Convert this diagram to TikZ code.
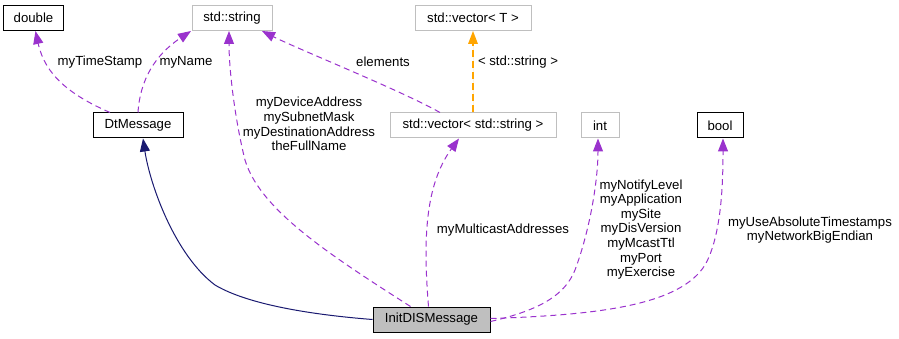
\documentclass[tikz,border=0pt]{standalone}
\usepackage{fontspec}
\setmainfont{Liberation Sans}
\usetikzlibrary{arrows.meta}
\definecolor{mem}{HTML}{9A32CD}
\definecolor{tmpl}{HTML}{FFA500}
\definecolor{inh}{HTML}{191970}
\definecolor{lgray}{HTML}{BFBFBF}
\begin{document}
\begin{tikzpicture}[x=1pt,y=-1pt,
  every node/.style={font=\fontsize{13.2}{14.6}\selectfont, inner sep=0pt, align=center},
  cls/.style={draw=black, line width=1pt, minimum height=25pt},
  ext/.style={draw=lgray, line width=1pt, minimum height=25pt},
  cur/.style={draw=black, fill=lgray, line width=1pt, minimum height=25pt},
  tip/.style={-{Triangle[length=13pt,width=10pt]}},
  memb/.style={tip, color=mem, line width=1pt, dash pattern=on 6pt off 4pt},
  tmplt/.style={-{Triangle[length=13pt,width=10pt,line width=0pt]}, draw=tmpl, fill=tmpl, line width=1.4pt, dash pattern=on 7pt off 4pt},
  inher/.style={tip, color=inh, line width=1pt},
  lbl/.style={fill=none}]
\useasboundingbox (0,0) rectangle (899,339);
\node[cls, minimum width=60pt] (double) at (33.5,18) {double};
\node[ext, minimum width=80pt] (string) at (232,18) {std::string};
\node[cls, minimum width=90pt] (dtmsg) at (138,125.5) {DtMessage};
\node[ext, minimum width=116pt] (vecT) at (473,18) {std::vector\textless{} T \textgreater{}};
\node[ext, minimum width=166pt] (vecS) at (473,125.5) {std::vector\textless{} std::string \textgreater{}};
\node[ext, minimum width=38pt] (int) at (600,125.5) {int};
\node[cls, minimum width=46pt] (bool) at (720,125.5) {bool};
\node[cur, minimum width=117pt] (initdis) at (431.5,319.5) {InitDISMessage};

% inheritance
\draw[inher] (initdis.west) .. controls (290,313) and (240,300) .. (215,285)
  .. controls (175,255) and (150,185) .. ([xshift=5pt]dtmsg.south);
% members
\draw[memb] ([xshift=-28pt]dtmsg.north) .. controls (70,95) and (45,75) .. ([xshift=2pt]double.south);
\node[lbl] (l1) at (100,62) {myTimeStamp};
\draw[memb] (dtmsg.north) .. controls (140,80) and (155,55) .. ([xshift=-41pt]string.south);
\node[lbl] (l2) at (186,62) {myName};
\draw[memb] ([xshift=-21pt]initdis.north) .. controls (330,255) and (260,210) .. (245,160)
  .. controls (235,120) and (229,70) .. ([xshift=-3pt]string.south);
\node[lbl] (l3) at (309,124) {myDeviceAddress\\mySubnetMask\\myDestinationAddress\\theFullName};
\draw[memb] ([xshift=-33pt]vecS.north) .. controls (400,90) and (300,50) .. ([xshift=30pt]string.south);
\node[lbl] (l4) at (383,62) {elements};
\draw[tmplt] (vecS.north) -- (vecT.south);
\node[lbl] (l5) at (518,62) {\textless{} std::string \textgreater{}};
\draw[memb] ([xshift=-3pt]initdis.north) .. controls (423,240) and (425,185) .. ([xshift=-14pt]vecS.south);
\node[lbl] (l6) at (503,230) {myMulticastAddresses};
\draw[memb] ([yshift=-2pt]initdis.east) .. controls (540,310) and (565,295) .. (575,270)
  .. controls (590,230) and (598,180) .. ([xshift=-2pt]int.south);
\node[lbl] (l7) at (641,229.5) {myNotifyLevel\\myApplication\\mySite\\myDisVersion\\myMcastTtl\\myPort\\myExercise};
\draw[memb] ([yshift=1pt]initdis.east) .. controls (600,315) and (680,305) .. (705,265)
  .. controls (722,235) and (723,180) .. ([xshift=3pt]bool.south);
\node[lbl] (l8) at (810,230) {myUseAbsoluteTimestamps\\myNetworkBigEndian};
\end{tikzpicture}
\end{document}
